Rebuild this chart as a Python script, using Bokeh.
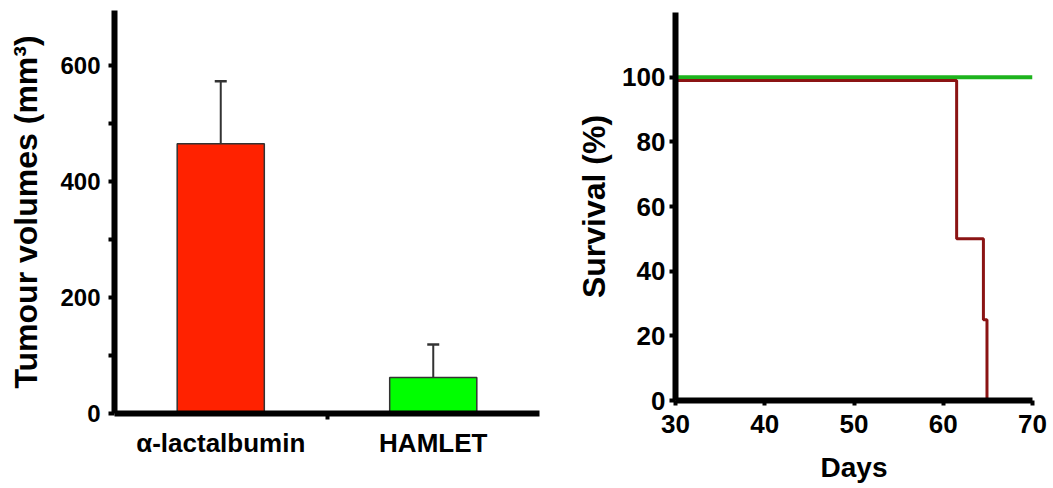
from bokeh.plotting import figure
from bokeh.layouts import row, column
from bokeh.models import Range1d, FixedTicker, Whisker, ColumnDataSource, TeeHead
from bokeh.embed import file_html
from bokeh.resources import INLINE

# ---- data: left panel (tumour volumes) ----
categories = ["α-lactalbumin", "HAMLET"]
volumes = [465, 62]
volume_errors = [108, 57]
bar_colors = ["#ff2200", "#00ff00"]
vol_ticks = [0, 200, 400, 600]
vol_minor_ticks = [100, 300, 500]

# ---- data: right panel (survival) ----
days_hamlet = [30, 70]
survival_hamlet = [100, 100]
days_alpha = [30, 61.5, 64.5, 64.9]
survival_alpha = [99, 50, 25, 0]
day_ticks = [30, 40, 50, 60, 70]
surv_ticks = [0, 20, 40, 60, 80, 100]

FONT = "Liberation Sans"

def style(p):
    p.outline_line_color = None
    p.xgrid.grid_line_color = None
    p.ygrid.grid_line_color = None
    p.background_fill_color = "white"
    p.border_fill_color = "white"
    for ax in (p.xaxis[0], p.yaxis[0]):
        ax.axis_line_width = 6
        ax.axis_line_color = "black"
        ax.major_tick_line_width = 4
        ax.minor_tick_line_width = 4
        ax.major_tick_line_color = "black"
        ax.minor_tick_line_color = "black"
        ax.major_tick_in = 0
        ax.minor_tick_in = 0
        ax.major_label_text_font = FONT
        ax.major_label_text_font_style = "bold"
        ax.major_label_text_color = "black"
        ax.axis_label_text_font = FONT
        ax.axis_label_text_font_style = "bold"
        ax.axis_label_text_color = "black"

# ---------------- left panel ----------------
n = len(categories)
xpos = [i + 0.5 for i in range(n)]
H1 = 480
p1 = figure(width=553, height=H1, x_range=Range1d(0, n), y_range=Range1d(0, 695),
            output_backend="svg", toolbar_location=None,
            min_border_left=114, min_border_right=14, min_border_top=10,
            min_border_bottom=H1 - 413)
style(p1)

src = ColumnDataSource(dict(x=xpos, top=volumes, color=bar_colors,
                            upper=[v + e for v, e in zip(volumes, volume_errors)],
                            lower=volumes))
p1.vbar(x="x", top="top", width=0.41, bottom=0, fill_color="color",
        line_color="#333333", line_width=1.5, source=src)
w = Whisker(source=src, base="x", upper="upper", lower="lower", dimension="height",
            line_color="#333333", line_width=2,
            upper_head=TeeHead(size=12, line_color="#333333", line_width=2.5),
            lower_head=None)
p1.add_layout(w)

p1.xaxis[0].ticker = FixedTicker(ticks=xpos, minor_ticks=[float(i) for i in range(1, n)])
p1.xaxis[0].major_label_overrides = {x: c for x, c in zip(xpos, categories)}
p1.xaxis[0].major_tick_out = 0
p1.xaxis[0].minor_tick_out = 6
p1.xaxis[0].major_label_standoff = 8
p1.xaxis[0].major_label_text_font_size = "26px"

p1.yaxis[0].ticker = FixedTicker(ticks=vol_ticks, minor_ticks=vol_minor_ticks)
p1.yaxis[0].major_tick_out = 6
p1.yaxis[0].minor_tick_out = 6
p1.yaxis[0].major_label_standoff = 8
p1.yaxis[0].major_label_text_font_size = "24px"
p1.yaxis[0].axis_label = "Tumour volumes (mm³)"
p1.yaxis[0].axis_label_text_font_size = "32px"
p1.yaxis[0].axis_label_standoff = 13

# ---------------- right panel ----------------
H2 = 486
p2 = figure(width=499, height=H2, x_range=Range1d(30, 70), y_range=Range1d(0, 120),
            output_backend="svg", toolbar_location=None,
            min_border_left=122, min_border_right=20, min_border_top=12,
            min_border_bottom=H2 - 400)
style(p2)

p2.step(days_hamlet, survival_hamlet, mode="after", line_color="#1db31d", line_width=4)
p2.step(days_alpha, survival_alpha, mode="after", line_color="#8b1414", line_width=3)

p2.xaxis[0].ticker = FixedTicker(ticks=day_ticks, minor_ticks=[])
p2.xaxis[0].major_tick_out = 5
p2.xaxis[0].major_label_standoff = 9
p2.xaxis[0].major_label_text_font_size = "26px"
p2.xaxis[0].axis_label = "Days"
p2.xaxis[0].axis_label_text_font_size = "28px"
p2.xaxis[0].axis_label_standoff = 16

p2.yaxis[0].ticker = FixedTicker(ticks=surv_ticks, minor_ticks=[])
p2.yaxis[0].major_tick_out = 6
p2.yaxis[0].major_label_standoff = 4
p2.yaxis[0].major_label_text_font_size = "26px"
p2.yaxis[0].axis_label = "Survival (%)"
p2.yaxis[0].axis_label_text_font_size = "32px"
p2.yaxis[0].axis_label_standoff = 7

layout = row(column(p1), column(p2))
open("out.html", "w").write(file_html(layout, INLINE))
